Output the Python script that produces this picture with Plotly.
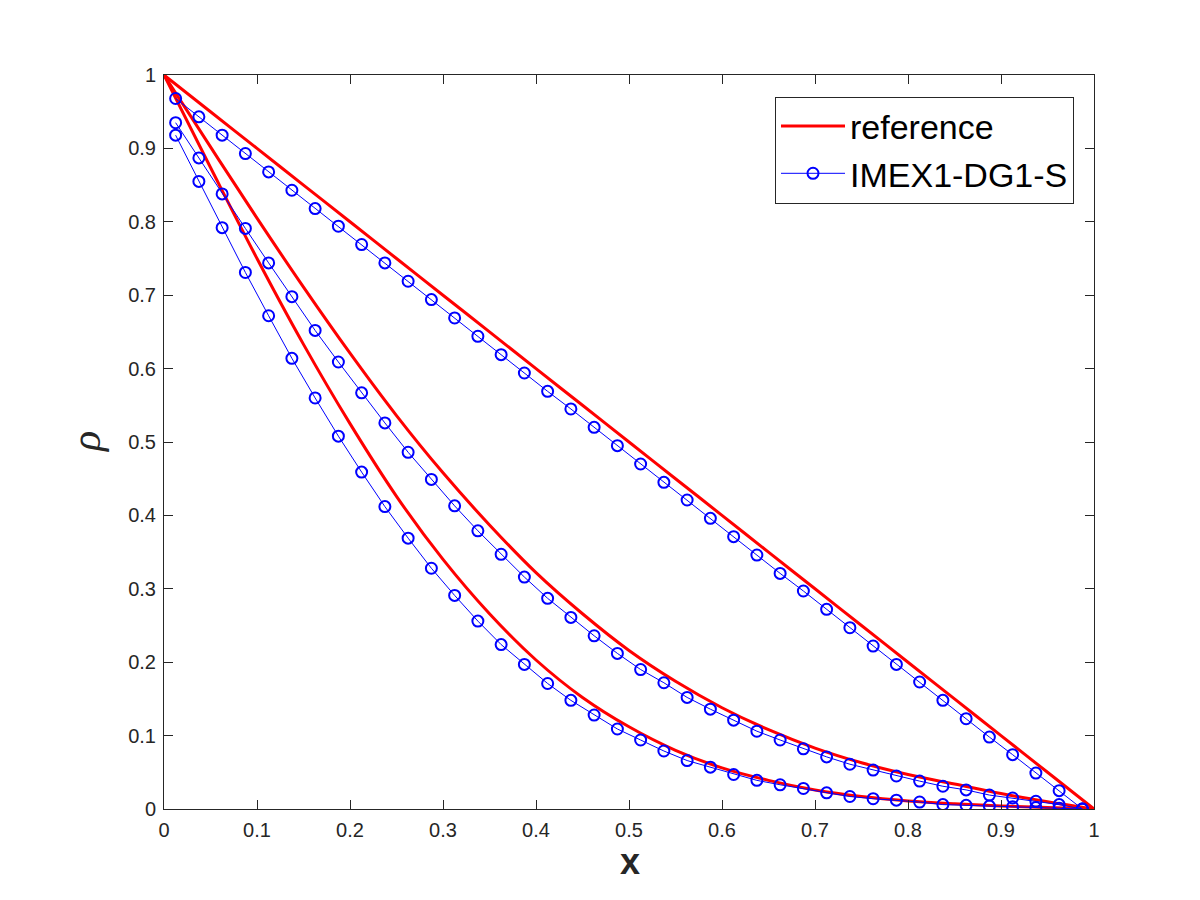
import plotly.graph_objects as go

# ---- data ----
# cell centres where the IMEX1-DG1-S solution is plotted (markers)
x_num = [0.0125, 0.0375, 0.0625, 0.0875, 0.1125, 0.1375, 0.1625, 0.1875, 0.2125, 0.2375,
         0.2625, 0.2875, 0.3125, 0.3375, 0.3625, 0.3875, 0.4125, 0.4375, 0.4625, 0.4875,
         0.5125, 0.5375, 0.5625, 0.5875, 0.6125, 0.6375, 0.6625, 0.6875, 0.7125, 0.7375,
         0.7625, 0.7875, 0.8125, 0.8375, 0.8625, 0.8875, 0.9125, 0.9375, 0.9625, 0.9875]

rho_num_top = [0.968, 0.943, 0.918, 0.893, 0.868, 0.843, 0.818, 0.794, 0.769, 0.744,
               0.719, 0.694, 0.669, 0.644, 0.619, 0.594, 0.569, 0.545, 0.520, 0.495,
               0.470, 0.445, 0.421, 0.396, 0.371, 0.346, 0.321, 0.297, 0.272, 0.247,
               0.222, 0.197, 0.173, 0.148, 0.123, 0.098, 0.074, 0.049, 0.025, 0.000]

rho_num_mid = [0.935, 0.887, 0.838, 0.791, 0.744, 0.698, 0.652, 0.609, 0.567, 0.526,
               0.486, 0.449, 0.413, 0.379, 0.347, 0.316, 0.287, 0.261, 0.236, 0.212,
               0.190, 0.172, 0.152, 0.136, 0.121, 0.106, 0.094, 0.082, 0.071, 0.061,
               0.053, 0.045, 0.038, 0.031, 0.026, 0.019, 0.015, 0.0105, 0.006, 0.000]

rho_num_low = [0.918, 0.855, 0.792, 0.731, 0.672, 0.614, 0.560, 0.508, 0.459, 0.412,
               0.369, 0.328, 0.291, 0.256, 0.224, 0.197, 0.171, 0.148, 0.128, 0.109,
               0.094, 0.079, 0.066, 0.057, 0.047, 0.039, 0.033, 0.028, 0.022, 0.017,
               0.014, 0.012, 0.0095, 0.006, 0.005, 0.004, 0.003, 0.002, 0.001, 0.000]

# reference solution sampled on a coarser grid
x_ref = [0.0, 0.05, 0.1, 0.15, 0.2, 0.25, 0.3, 0.35, 0.4, 0.45, 0.5,
         0.55, 0.6, 0.65, 0.7, 0.75, 0.8, 0.85, 0.9, 0.95, 1.0]

rho_ref_top = [1.0, 0.95, 0.90, 0.85, 0.80, 0.75, 0.70, 0.65, 0.60, 0.55, 0.50,
               0.45, 0.40, 0.35, 0.30, 0.25, 0.20, 0.15, 0.10, 0.05, 0.0]

rho_ref_mid = [1.0, 0.902, 0.805, 0.711, 0.621, 0.536, 0.458, 0.387, 0.322, 0.266, 0.216,
               0.174, 0.138, 0.108, 0.083, 0.063, 0.047, 0.034, 0.021, 0.010, 0.0]

rho_ref_low = [1.0, 0.874, 0.750, 0.633, 0.525, 0.426, 0.340, 0.266, 0.203, 0.152, 0.112,
               0.080, 0.056, 0.039, 0.026, 0.017, 0.011, 0.007, 0.004, 0.002, 0.0]

ticks = [0, 0.1, 0.2, 0.3, 0.4, 0.5, 0.6, 0.7, 0.8, 0.9, 1]

AXCOL = '#262626'
TICKFONT = dict(family='Liberation Sans, Arial, sans-serif', size=20, color=AXCOL)

fig = go.Figure()

# reference curves (red)
for k, ref in enumerate([rho_ref_top, rho_ref_mid, rho_ref_low]):
    fig.add_trace(go.Scatter(
        x=x_ref, y=ref, mode='lines', name='reference',
        line=dict(color='#ff0000', width=3, shape='spline'),
        legendgroup='ref', showlegend=(k == 0)
    ))

# numerical solution (blue, open circles)
for k, num in enumerate([rho_num_top, rho_num_mid, rho_num_low]):
    fig.add_trace(go.Scatter(
        x=x_num, y=num, mode='lines+markers', name='IMEX1-DG1-S',
        line=dict(color='#0000ff', width=1),
        marker=dict(symbol='circle-open', size=11, color='#0000ff', line=dict(width=2)),
        legendgroup='num', showlegend=(k == 0)
    ))

axis_common = dict(
    range=[0, 1], tickvals=ticks, showgrid=False, zeroline=False,
    showline=True, mirror='ticks', linecolor=AXCOL, linewidth=1,
    ticks='inside', ticklen=9, tickcolor=AXCOL, tickwidth=1,
    tickfont=TICKFONT
)
fig.update_xaxes(**axis_common, ticklabelstandoff=3)
fig.update_yaxes(**axis_common, ticklabelstandoff=3)

# axis labels placed by hand (MATLAB style)
fig.add_annotation(text='<b>x</b>', xref='paper', yref='paper', x=0.5008, y=-0.071,
                   xanchor='center', yanchor='middle', showarrow=False,
                   font=dict(family='Liberation Sans, Arial, sans-serif', size=36, color=AXCOL))
fig.add_annotation(text='ρ', xref='paper', yref='paper', x=-0.084, y=0.50,
                   xanchor='center', yanchor='middle', showarrow=False, textangle=-90,
                   font=dict(family='Liberation Serif, Times New Roman, serif', size=42,
                             color=AXCOL, style='italic'))

fig.update_layout(
    width=1200, height=900,
    margin=dict(l=156, r=114, t=67, b=99, pad=0, autoexpand=False),
    paper_bgcolor='white', plot_bgcolor='white',
    showlegend=True,
    legend=dict(
        x=0.9785, xanchor='right', y=0.9707, yanchor='top',
        bgcolor='white', bordercolor=AXCOL, borderwidth=1,
        font=dict(family='Liberation Sans, Arial, sans-serif', size=34, color='black'),
        itemwidth=64, tracegroupgap=0
    )
)

fig.write_html("out.html")
